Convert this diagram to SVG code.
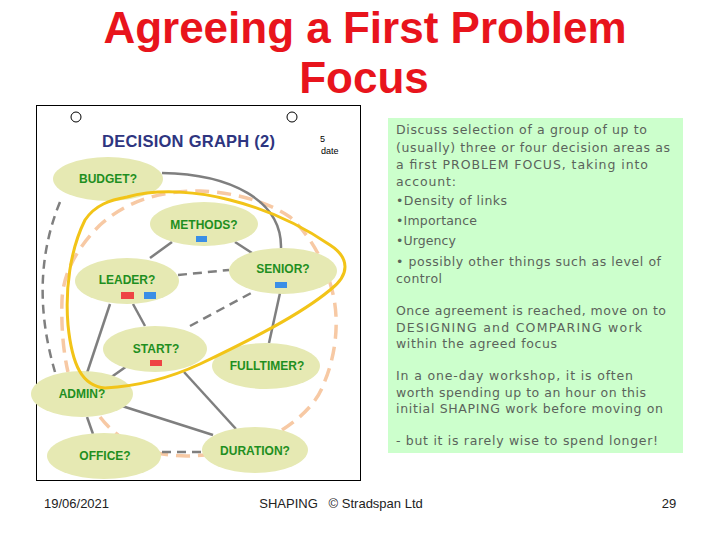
<svg xmlns="http://www.w3.org/2000/svg" width="720" height="540" viewBox="0 0 720 540">
<style>
.title{font-family:"Liberation Sans",Arial,sans-serif;font-size:44px;font-weight:bold;fill:#e8141c;text-anchor:middle}
.node ellipse{fill:#e6e9b3}
.node text{font-family:"Liberation Sans",Arial,sans-serif;font-weight:bold;font-size:12px;fill:#1f8f1f;text-anchor:middle}
.solid{stroke:#7f7f7f;stroke-width:2.5;fill:none}
.dash{stroke:#7f7f7f;stroke-width:2.5;fill:none;stroke-dasharray:9 6}
.orange{stroke:#f7c9a4;stroke-width:3.5;fill:none;stroke-dasharray:14 8}
.yellow{stroke:#f2c418;stroke-width:3;fill:none}
.note{font-family:"DejaVu Sans",sans-serif;font-size:12.5px;fill:#5b635b}
.foot{font-family:"Liberation Sans",Arial,sans-serif;font-size:13px;fill:#222}
</style>
<rect width="720" height="540" fill="#fff"/>
<text class="title" x="365" y="43">Agreeing a First Problem</text>
<text class="title" x="364" y="93">Focus</text>
<rect x="36.500" y="105.500" width="324" height="375" fill="#fff" stroke="#000" stroke-width="1"/>
<circle cx="76" cy="117" r="5" fill="none" stroke="#000"/>
<circle cx="292" cy="117" r="5" fill="none" stroke="#000"/>
<text x="102" y="147" textLength="173" font-family="Liberation Sans,Arial,sans-serif" font-size="16.5" font-weight="bold" fill="#2e3580">DECISION GRAPH (2)</text>
<text x="320" y="142" font-family="Liberation Sans,Arial,sans-serif" font-size="9" fill="#000">5</text>
<text x="321" y="154" font-family="Liberation Sans,Arial,sans-serif" font-size="9" fill="#000">date</text>
<g id="connectors">
<path class="orange" d="M282,430 C305,415 318,400 324,383 C336,355 340,320 332,290 C325,262 310,235 290,217 C265,200 230,192 200,191 C165,191 130,198 100,225 C75,250 63,275 62,300 C61,330 64,355 68,372"/>
<path class="orange" d="M100,417 Q135,462 205,455"/>
<path class="dash" d="M60,202 Q28,280 55,372"/>
<path class="solid" d="M162,173 C230,174 282,200 281,248"/>
<path class="solid" d="M235,242 L252,253"/>
<path class="solid" d="M172,242 L150,258"/>
<path class="dash" d="M178,275 L229,270"/>
<path class="dash" d="M190,326 L253,292"/>
<path class="solid" d="M280,293 L269,343"/>
<path class="solid" d="M133,304 L145,326"/>
<path class="solid" d="M110,304 L87,373"/>
<path class="solid" d="M127,366 L110,378"/>
<path class="solid" d="M184,372 L236,429"/>
<path class="solid" d="M122,406 L213,435"/>
<path class="solid" d="M87,417 L93,434"/>
<path class="dash" d="M162,452 L202,452"/>
</g>
<g id="budget" class="node"><ellipse cx="108" cy="179" rx="55" ry="22"/><text x="108" y="183">BUDGET?</text></g>
<g id="methods" class="node"><ellipse cx="204" cy="224" rx="54" ry="22"/><text x="204" y="229">METHODS?</text><rect x="196" y="236" width="11" height="6" fill="#3a8ee6"/></g>
<g id="senior" class="node"><ellipse cx="283" cy="271" rx="54" ry="23"/><text x="283" y="273">SENIOR?</text><rect x="275" y="282" width="12" height="6" fill="#3a8ee6"/></g>
<g id="leader" class="node"><ellipse cx="127" cy="281" rx="52" ry="23"/><text x="127" y="284">LEADER?</text><rect x="121" y="292" width="13" height="7" fill="#ee4444"/><rect x="144" y="292" width="12" height="7" fill="#3a8ee6"/></g>
<g id="start" class="node"><ellipse cx="155" cy="349" rx="52" ry="23"/><text x="156" y="353">START?</text><rect x="150" y="360" width="12" height="6" fill="#ee4444"/></g>
<g id="fulltimer" class="node"><ellipse cx="266" cy="366" rx="54" ry="23"/><text x="267" y="370">FULLTIMER?</text></g>
<g id="admin" class="node"><ellipse cx="82" cy="394" rx="51" ry="23"/><text x="82" y="398">ADMIN?</text></g>
<g id="office" class="node"><ellipse cx="104" cy="456" rx="57" ry="23"/><text x="105" y="460">OFFICE?</text></g>
<g id="duration" class="node"><ellipse cx="255" cy="450" rx="53" ry="23"/><text x="255" y="455">DURATION?</text></g>
<path class="yellow" d="M127,197 C160,188 200,192 230,200 C270,210 305,228 330,245 C350,258 350,275 330,290 C300,315 250,340 200,364 C170,378 140,386 105,388 C82,386 72,365 68,325 C65,290 70,250 85,220 C95,205 110,200 127,197 Z"/>
<rect x="388" y="118" width="295" height="335" fill="#ccffcc"/>
<g class="note">
<text x="396" y="134" textLength="251">Discuss selection of a group of up to</text>
<text x="396" y="152" textLength="274">(usually) three or four decision areas as</text>
<text x="396" y="169" textLength="252">a first PROBLEM FOCUS, taking into</text>
<text x="396" y="186" textLength="60">account:</text>
<text x="396" y="205" textLength="111">•Density of links</text>
<text x="396" y="225" textLength="81">•Importance</text>
<text x="396" y="245" textLength="60">•Urgency</text>
<text x="396" y="266" textLength="265">• possibly other things such as level of</text>
<text x="396" y="283" textLength="46">control</text>
<text x="396" y="315" textLength="270">Once agreement is reached, move on to</text>
<text x="396" y="332" textLength="246">DESIGNING and COMPARING work</text>
<text x="396" y="348" textLength="161">within the agreed focus</text>
<text x="396" y="380" textLength="237">In a one-day workshop, it is often</text>
<text x="396" y="397" textLength="250">worth spending up to an hour on this</text>
<text x="396" y="413" textLength="267">initial SHAPING work before moving on</text>
<text x="396" y="445" textLength="262">- but it is rarely wise to spend longer!</text>
</g>
<text class="foot" x="44" y="508">19/06/2021</text>
<text class="foot" x="341" y="508" text-anchor="middle" xml:space="preserve">SHAPING   © Stradspan Ltd</text>
<text class="foot" x="669" y="508" text-anchor="middle">29</text>
</svg>
